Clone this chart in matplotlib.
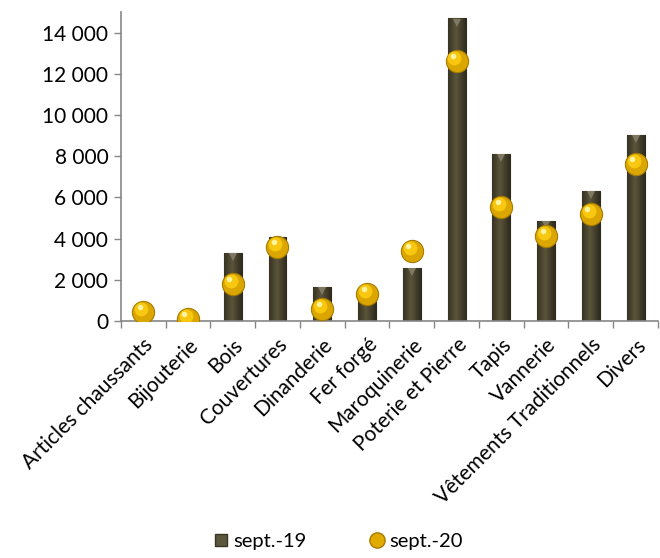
import matplotlib
matplotlib.use("Agg")
import matplotlib.pyplot as plt
import matplotlib.transforms as mtransforms
from matplotlib.lines import Line2D
from matplotlib.colors import LinearSegmentedColormap
import numpy as np

categories = ["Articles chaussants", "Bijouterie", "Bois", "Couvertures", "Dinanderie",
              "Fer forgé", "Maroquinerie", "Poterie et Pierre", "Tapis", "Vannerie",
              "Vêtements Traditionnels", "Divers"]
sept19 = [0, 0, 3290, 4070, 1640, 1100, 2560, 14700, 8100, 4860, 6300, 9050]
sept20 = [450, 100, 1800, 3600, 600, 1300, 3400, 12640, 5540, 4130, 5200, 7630]
yticks = [0, 2000, 4000, 6000, 8000, 10000, 12000, 14000]
ytick_labels = ["0", "2 000", "4 000", "6 000", "8 000", "10 000", "12 000", "14 000"]
series_names = ["sept.-19", "sept.-20"]

plt.rcParams['font.family'] = ['Lato', 'DejaVu Sans']
fs = 15

fig = plt.figure(figsize=(6.6, 5.58), dpi=100)
ax = fig.add_axes([0.183, 0.425, 0.814, 0.553])

x = np.arange(len(categories))
bar_color = "#4a4530"
bars = ax.bar(x, sept19, width=0.4, color=bar_color, edgecolor="#2f2b1d", linewidth=0.8, zorder=2)

# gradient shading on bars
grad = np.linspace(0, 1, 64)
grad = np.abs(grad - 0.45)
grad = np.vstack([grad, grad])
cmap = LinearSegmentedColormap.from_list("barg", ["#5a543a", "#2f2b1d"])
for b in bars:
    if b.get_height() <= 0:
        continue
    x0, w, h = b.get_x(), b.get_width(), b.get_height()
    im = ax.imshow(grad, cmap=cmap, extent=[x0, x0 + w, 0, h], aspect='auto', zorder=2.1,
                   interpolation='bicubic')
    im.set_clip_path(b)
# light cap at the top of each bar
pos = np.array(sept19) > 0
ax.plot(x[pos], np.array(sept19)[pos], linestyle='none',
        marker='v', markersize=6, markerfacecolor="#7f7964", markeredgewidth=0, zorder=2.5,
        transform=ax.transData + mtransforms.ScaledTranslation(0, -3 / 72, fig.dpi_scale_trans))

# spheres
ax.plot(x, sept20, linestyle='none', marker='o', markersize=16, markerfacecolor="#dba600",
        markeredgecolor="#a67c00", markeredgewidth=0.8, zorder=4)
off = mtransforms.ScaledTranslation(-1.5 / 72, 2 / 72, fig.dpi_scale_trans)
ax.plot(x, sept20, linestyle='none', marker='o', markersize=10, markerfacecolor="#f7c80f",
        markeredgewidth=0, zorder=5, transform=ax.transData + off)
off2 = mtransforms.ScaledTranslation(-2.5 / 72, 3.5 / 72, fig.dpi_scale_trans)
ax.plot(x, sept20, linestyle='none', marker='o', markersize=4, markerfacecolor="#fff3a0",
        markeredgewidth=0, zorder=6, transform=ax.transData + off2)

ax.set_xlim(-0.5, len(categories) - 0.5)
ax.set_ylim(0, 15000)
ax.set_yticks(yticks)
ax.set_yticklabels(ytick_labels, fontsize=fs)
ax.set_xticks(x)
ax.set_xticklabels(categories, rotation=45, ha='right', rotation_mode='anchor', fontsize=fs)
ax.tick_params(axis='x', length=0, pad=10)
ax.set_xticks(np.arange(-0.5, len(categories), 1.0), minor=True)
ax.tick_params(axis='x', which='minor', length=5, color="#868686", width=1)
ax.tick_params(axis='y', length=5, color="#868686", width=1, pad=4)
for s in ['top', 'right']:
    ax.spines[s].set_visible(False)
for s in ['left', 'bottom']:
    ax.spines[s].set_color("#868686")
    ax.spines[s].set_linewidth(1.2)

handles = [
    Line2D([], [], linestyle='none', marker='s', markersize=9, markerfacecolor="#5b563c",
           markeredgecolor="#3a3624"),
    Line2D([], [], linestyle='none', marker='o', markersize=11, markerfacecolor="#e0aa00",
           markeredgecolor="#a67c00"),
]
fig.legend(handles, series_names, loc='center', bbox_to_anchor=(0.51, 0.03), ncol=2,
           frameon=False, fontsize=14.5, handletextpad=0.1, columnspacing=3.0, handlelength=1.0)

fig.savefig("out.png", dpi=100)
